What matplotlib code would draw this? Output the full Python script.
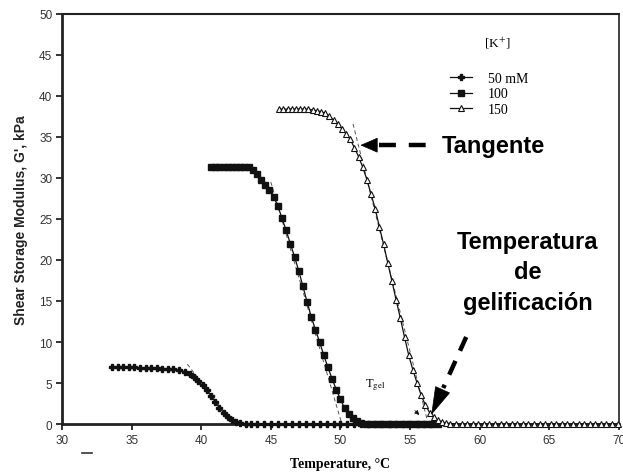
import matplotlib
matplotlib.use("Agg")
import matplotlib.pyplot as plt
from matplotlib.lines import Line2D

plt.rcParams["mathtext.fontset"] = "stix"

# Shear storage modulus G' (kPa) vs temperature (°C) at three K+ levels
temp_50 = [33.6, 34.0, 34.4, 34.8, 35.2, 35.6, 36.0, 36.4, 36.8, 37.2, 37.6, 38.0,
           38.4, 38.8, 39.2, 39.5, 39.8, 40.1, 40.4, 40.7, 41.0, 41.3, 41.6, 41.9,
           42.2, 42.5, 42.8, 43.2, 43.6, 44.0, 44.5, 45.0, 45.5, 46.0, 46.5, 47.0,
           47.5, 48.0, 48.5, 49.0, 49.5, 50.0, 50.5, 51.0, 51.5, 52.0, 52.5, 53.0,
           53.5, 54.0, 54.5, 55.0, 55.5, 56.0, 56.5]
g_50 = [6.9, 6.9, 6.9, 6.9, 6.9, 6.85, 6.85, 6.8, 6.8, 6.75, 6.7, 6.65,
        6.55, 6.4, 6.1, 5.7, 5.2, 4.7, 4.2, 3.4, 2.7, 2.0, 1.4, 0.85,
        0.45, 0.2, 0.08, 0.03, 0, 0, 0, 0, 0, 0, 0, 0,
        0, 0, 0, 0, 0, 0, 0, 0, 0, 0, 0, 0,
        0, 0, 0, 0, 0, 0, 0]

temp_100 = [40.7, 41.0, 41.3, 41.6, 41.9, 42.2, 42.5, 42.8, 43.1, 43.4, 43.7, 44.0,
            44.3, 44.6, 44.9, 45.2, 45.5, 45.8, 46.1, 46.4, 46.7, 47.0, 47.3, 47.6,
            47.9, 48.2, 48.5, 48.8, 49.1, 49.4, 49.7, 50.0, 50.3, 50.6, 50.9, 51.2,
            51.5, 51.8, 52.2, 52.6, 53.0, 53.4, 53.8, 54.2, 54.6, 55.0, 55.4, 55.8,
            56.2, 56.6, 57.0]
g_100 = [31.3, 31.3, 31.3, 31.3, 31.3, 31.3, 31.3, 31.3, 31.3, 31.3, 31.0, 30.5,
         29.8, 29.2, 28.5, 27.7, 26.6, 25.1, 23.6, 22.0, 20.4, 18.7, 16.8, 14.9,
         13.1, 11.5, 10.0, 8.4, 6.9, 5.5, 4.2, 3.0, 1.9, 1.2, 0.7, 0.35,
         0.15, 0.05, 0, 0, 0, 0, 0, 0, 0, 0, 0, 0,
         0, 0, 0]

temp_150 = [45.6, 45.9, 46.2, 46.5, 46.8, 47.1, 47.4, 47.7, 48.0, 48.3, 48.6, 48.9,
            49.2, 49.5, 49.8, 50.1, 50.4, 50.7, 51.0, 51.3, 51.6, 51.9, 52.2, 52.5,
            52.8, 53.1, 53.4, 53.7, 54.0, 54.3, 54.6, 54.9, 55.2, 55.5, 55.8, 56.1,
            56.4, 56.7, 57.0, 57.3, 57.6, 57.9, 58.3, 58.7, 59.1, 59.5, 59.9, 60.3,
            60.7, 61.1, 61.5, 61.9, 62.3, 62.7, 63.1, 63.5, 63.9, 64.3, 64.7, 65.1,
            65.5, 65.9, 66.3, 66.7, 67.1, 67.5, 67.9, 68.3, 68.7, 69.1, 69.5, 69.9]
g_150 = [38.4, 38.4, 38.4, 38.4, 38.4, 38.4, 38.4, 38.4, 38.3, 38.2, 38.1, 37.9,
         37.5, 37.1, 36.6, 36.0, 35.4, 34.7, 33.7, 32.6, 31.3, 29.8, 28.0, 26.2,
         24.0, 21.9, 19.6, 17.4, 15.1, 12.9, 10.6, 8.4, 6.6, 5.0, 3.5, 2.3,
         1.4, 0.8, 0.45, 0.25, 0.12, 0.05, 0.02, 0, 0, 0, 0, 0,
         0, 0, 0, 0, 0, 0, 0, 0, 0, 0, 0, 0,
         0, 0, 0, 0, 0, 0, 0, 0, 0, 0, 0, 0]

series_labels = ["50 mM", "100", "150"]

# Tangent lines through the steepest part of each curve: (T0, G0, T1, G1)
tangent_50 = [39.0, 7.3, 42.3, 0.0]
tangent_100 = [45.0, 29.5, 50.1, 0.0]
tangent_150 = [50.9, 36.6, 56.3, 0.0]

x_ticks = [30, 35, 40, 45, 50, 55, 60, 65, 70]
y_ticks = [0, 5, 10, 15, 20, 25, 30, 35, 40, 45, 50]

W, H = 623, 477
fig = plt.figure(figsize=(W / 100, H / 100), dpi=100)
ax = fig.add_axes([0.0995, 0.109, 0.894, 0.8596])

ink = "#111111"
line_kw = dict(color=ink, lw=0.9, clip_on=False, zorder=3)
ax.plot(temp_50, g_50, marker="P", ms=4.3, mfc=ink, mec=ink, label=series_labels[0], **line_kw)
ax.plot(temp_100, g_100, marker="s", ms=4.4, mfc=ink, mec=ink, label=series_labels[1], **line_kw)
ax.plot(temp_150, g_150, marker="^", ms=3.8, mfc="white", mec=ink, mew=0.8,
        label=series_labels[2], **line_kw)

for t in (tangent_50, tangent_100, tangent_150):
    ax.plot([t[0], t[2]], [t[1], t[3]], color="#555555", lw=0.7, ls=(0, (4, 3)), zorder=2)

ax.set_xlim(30, 70)
ax.set_ylim(0, 50)
ax.set_xticks(x_ticks)
ax.set_yticks(y_ticks)
ax.tick_params(axis="both", direction="out", length=4, width=1.2, colors=ink,
               labelsize=8.5, labelcolor="#333333", pad=3)
for lab in ax.get_xticklabels() + ax.get_yticklabels():
    lab.set_fontfamily("Liberation Sans")

ax.spines["left"].set_linewidth(2.0)
ax.spines["bottom"].set_linewidth(2.0)
ax.spines["top"].set_linewidth(1.5)
ax.spines["right"].set_linewidth(1.2)
for s in ax.spines.values():
    s.set_color("#222222")

ax.set_xlabel("Temperature, °C", fontfamily="Liberation Serif", fontweight="bold",
              fontsize=10, labelpad=8)
ax.set_ylabel("Shear Storage Modulus, G', kPa", fontfamily="Liberation Sans",
              fontweight="bold", fontsize=10, labelpad=8, color="#222222")

# Legend
ax.text(497, H - 43, r"[K$^{+}$]", transform=None, fontfamily="Liberation Serif",
        fontsize=9.5, ha="center", va="center")
leg = ax.legend(loc="upper left", bbox_to_anchor=(0.686, 0.873), frameon=False,
                prop={"family": "Liberation Serif", "size": 10},
                handlelength=1.6, handletextpad=1.15, labelspacing=0.2,
                borderaxespad=0.0)

# T_gel label with small pointer
ax.text(52.5, 4.9, r"T$_{\mathrm{gel}}$", fontfamily="Liberation Serif", fontsize=9,
        ha="center", va="center")
ax.annotate("", xy=(55.8, 0.85), xytext=(55.2, 1.9),
            arrowprops=dict(arrowstyle="-|>", color=ink, lw=0.5,
                            mutation_scale=7))

# "Tangente" pointer: dashed shaft plus solid head
ax.plot([52.8, 56.16], [34.0, 34.0], color="black", lw=3.2, ls=(0, (3.8, 2.9)),
        dash_capstyle="butt", zorder=4)
ax.annotate("", xy=(51.43, 34.0), xytext=(52.65, 34.0),
            arrowprops=dict(arrowstyle="-|>,head_length=1.15,head_width=0.5",
                            color="black", lw=0.5, mutation_scale=10, shrinkA=0, shrinkB=0),
            zorder=5)
ax.text(57.3, 34.0, "Tangente", fontfamily="Liberation Sans", fontweight="bold",
        fontsize=17, ha="left", va="center")

# "Temperatura de gelificación" pointer
for line, ybase in zip(["Temperatura", "de", "gelificación"], [249, 279, 310]):
    ax.text(527.5, H - ybase, line, transform=None, fontfamily="Liberation Sans",
            fontweight="bold", fontsize=17, ha="center", va="baseline")
ax.plot([59.03, 57.38], [10.61, 4.39], color="black", lw=3.2, ls=(0, (3.4, 2.5)),
        dash_capstyle="butt", zorder=4)
ax.annotate("", xy=(56.52, 1.10), xytext=(57.31, 4.10),
            arrowprops=dict(arrowstyle="-|>,head_length=1.9,head_width=0.55",
                            color="black", lw=0.5, mutation_scale=10, shrinkA=0, shrinkB=0),
            zorder=5)

# small stray dash below the axis
fig.add_artist(Line2D([82 / W, 92 / W], [1 - 454 / H, 1 - 454 / H],
                      color="#333333", lw=1.2))

fig.savefig("out.png", dpi=100)
